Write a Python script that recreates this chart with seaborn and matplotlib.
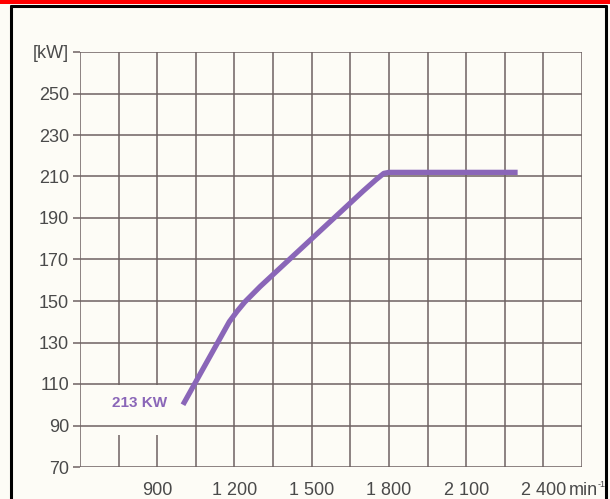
import matplotlib
matplotlib.use("Agg")
import matplotlib.pyplot as plt
from matplotlib.lines import Line2D
from matplotlib.patches import Rectangle
import seaborn as sns
import pandas as pd

# Datos de la curva de potencia
rpm = [1000, 1180, 1210, 1240, 1280, 1300, 1500, 1700, 1750, 1780, 1800, 2300]
kw = [100, 140, 145, 149.5, 154.5, 157, 180, 203, 208.5, 211.5, 212, 212]

x_ticks = [900, 1200, 1500, 1800, 2100, 2400]
x_labels = ["900", "1 200", "1 500", "1 800", "2 100", "2 400"]
y_ticks = [70, 90, 110, 130, 150, 170, 190, 210, 230, 250, 270]
y_labels = ["70", "90", "110", "130", "150", "170", "190", "210", "230", "250", "[kW]"]
grid_x = [600 + 150 * i for i in range(14)]

df = pd.DataFrame({"rpm": rpm, "kw": kw})

sns.set_theme(style="white")
plt.rcParams["font.family"] = ["Liberation Sans", "DejaVu Sans"]

bg = "#fdfcf6"
grid_c = "#6e6262"
purple = "#8a66b8"
text_c = "#4a4a4a"

fig = plt.figure(figsize=(6.1, 4.99), dpi=100, facecolor=bg)
ax = fig.add_axes([80 / 610, 1 - 467 / 499, 502 / 610, 415 / 499])
ax.set_facecolor(bg)

# Rejilla dibujada a mano (hueco detrás de la etiqueta)
for y in y_ticks:
    ax.hlines(y, 600, 2550, color=grid_c, lw=1.1, zorder=1)
for x in grid_x:
    if x in (750, 900):
        ax.vlines(x, 70, 85.5, color=grid_c, lw=1.1, zorder=1)
        ax.vlines(x, 109.5, 270, color=grid_c, lw=1.1, zorder=1)
    else:
        ax.vlines(x, 70, 270, color=grid_c, lw=1.1, zorder=1)

sns.lineplot(data=df, x="rpm", y="kw", ax=ax, color=purple, lw=3.8,
             solid_joinstyle="round", solid_capstyle="butt", zorder=3)

ax.text(833, 101, "213 KW", color=purple, fontsize=11, fontweight="bold",
        ha="center", va="center")

ax.set_xlim(600, 2550)
ax.set_ylim(70, 270)
ax.set_xticks(x_ticks)
ax.set_xticklabels(x_labels)
ax.set_yticks(y_ticks)
ax.set_yticklabels(y_labels)
ax.set_xlabel("")
ax.set_ylabel("")
ax.tick_params(axis="x", length=0, pad=11, labelsize=13, labelcolor=text_c)
ax.tick_params(axis="y", length=5, width=1.1, color=grid_c, pad=3,
               labelsize=13, labelcolor=text_c, left=True)
for s in ax.spines.values():
    s.set_visible(False)

# unidad del eje x: "min" con exponente -1
fig.text(569 / 610, 1 - 495 / 499, "min", color=text_c, fontsize=13,
         ha="left", va="baseline")
fig.text(598 / 610, 1 - 487 / 499, "-1", color=text_c, fontsize=6.5,
         ha="left", va="baseline")

# Marco del cuadro y barra roja superior
fig.add_artist(Rectangle((0, 1 - 4 / 499), 1, 4 / 499, transform=fig.transFigure,
                         color="#ff0000", lw=0))
fig.add_artist(Line2D([11 / 610, 11 / 610], [0, 1 - 6 / 499], color="black", lw=2.2,
                      transform=fig.transFigure))
fig.add_artist(Line2D([606 / 610, 606 / 610], [0, 1 - 6 / 499], color="black", lw=2.2,
                      transform=fig.transFigure))
fig.add_artist(Line2D([11 / 610, 606 / 610], [1 - 6 / 499, 1 - 6 / 499], color="black",
                      lw=2.2, transform=fig.transFigure))

fig.savefig("out.png", dpi=100, facecolor=bg)
